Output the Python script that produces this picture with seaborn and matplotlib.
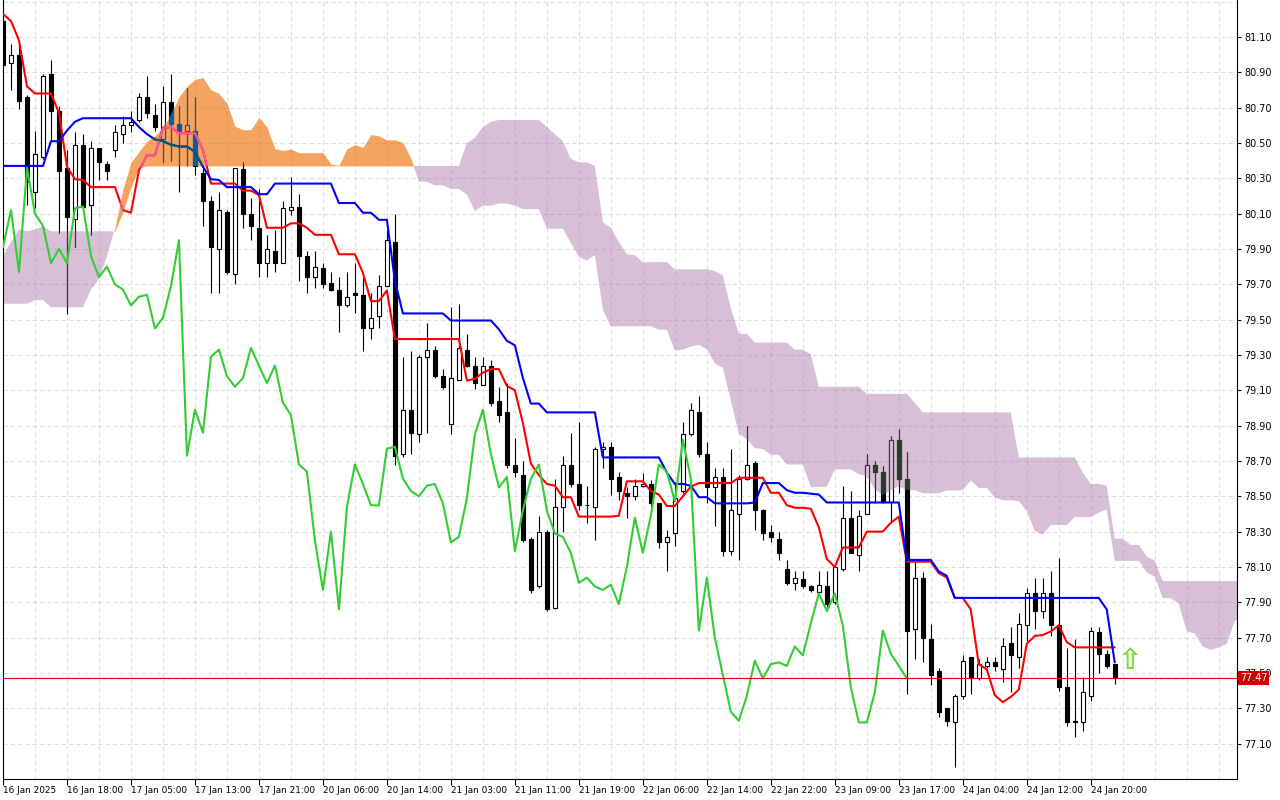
import numpy as np
import pandas as pd
import matplotlib
matplotlib.use("Agg")
import matplotlib.pyplot as plt
import matplotlib.colors as mcolors
from matplotlib.path import Path
from matplotlib.transforms import blended_transform_factory
import seaborn as sns

# ==============================
# H1 candles, 16 Jan 2025 -> 24 Jan 2025
# ==============================
opens = [81.19, 80.95, 81.00, 80.76, 80.22, 80.42, 80.89, 80.68, 80.36, 80.07,
         80.49, 80.15, 80.47, 80.38, 80.46, 80.55, 80.60, 80.63, 80.76, 80.66,
         80.52, 80.73, 80.61, 80.57, 80.57, 80.33, 80.17, 79.90, 80.11, 79.76,
         80.35, 80.10, 80.02, 79.82, 79.89, 79.82, 80.12, 80.14, 79.86, 79.74,
         79.79, 79.71, 79.67, 79.58, 79.65, 79.64, 79.45, 79.52, 79.69, 79.94,
         78.74, 78.99, 78.85, 79.29, 79.33, 79.18, 78.91, 79.16, 79.33, 79.24,
         79.13, 79.24, 79.04, 78.98, 78.68, 78.62, 78.26, 77.99, 78.30, 77.87,
         78.44, 78.68, 78.57, 78.452, 78.44, 78.77, 78.78, 78.61, 78.52, 78.50,
         78.56, 78.57, 78.46, 78.24, 78.29, 78.53, 78.85, 78.98, 78.74, 78.55,
         78.61, 78.19, 78.40, 78.60, 78.69, 78.42, 78.30, 78.26, 78.09, 78.01,
         78.03, 77.99, 77.96, 77.99, 77.90, 78.09, 78.38, 78.17, 78.40, 78.68,
         78.64, 78.47, 78.82, 78.60, 77.75, 78.04, 77.69, 77.51, 77.30, 77.22,
         77.37, 77.59, 77.47, 77.54, 77.56, 77.52, 77.67, 77.59, 77.77, 77.95,
         77.85, 77.95, 77.77, 77.42, 77.23, 77.22, 77.37, 77.73, 77.61, 77.55]
highs = [81.20, 81.06, 81.05, 80.77, 80.57, 80.89, 80.97, 80.71, 80.46, 80.56,
         80.55, 80.51, 80.47, 80.40, 80.60, 80.65, 80.68, 80.78, 80.88, 80.72,
         80.82, 80.89, 80.71, 80.81, 80.76, 80.36, 80.20, 80.22, 80.12, 80.36,
         80.39, 80.19, 80.24, 79.98, 80.01, 80.17, 80.31, 80.21, 79.89, 79.89,
         79.82, 79.77, 79.74, 79.77, 79.82, 79.74, 79.65, 79.75, 80.01, 80.10,
         79.29, 79.32, 79.30, 79.48, 79.35, 79.22, 79.57, 79.59, 79.42, 79.29,
         79.29, 79.27, 79.12, 79.14, 78.83, 78.70, 78.27, 78.39, 78.31, 78.60,
         78.73, 78.86, 78.92, 78.56, 78.78, 78.81, 78.81, 78.64, 78.55, 78.60,
         78.63, 78.59, 78.46, 78.31, 78.58, 78.92, 79.03, 79.07, 78.81, 78.66,
         78.66, 78.77, 78.62, 78.90, 78.70, 78.43, 78.34, 78.30, 78.14, 78.08,
         78.08, 78.00, 78.08, 78.08, 78.11, 78.56, 78.53, 78.42, 78.74, 78.70,
         78.67, 78.84, 78.88, 78.75, 78.13, 78.07, 77.78, 77.53, 77.30, 77.38,
         77.60, 77.59, 77.58, 77.59, 77.59, 77.70, 77.76, 77.84, 77.98, 78.04,
         78.04, 78.08, 78.15, 77.64, 77.69, 77.48, 77.76, 77.76, 77.63, 77.55]
lows = [80.92, 80.80, 80.69, 80.15, 80.13, 80.41, 80.51, 79.99, 79.53, 79.91,
        80.12, 79.98, 80.29, 80.29, 80.42, 80.50, 80.56, 80.62, 80.64, 80.57,
        80.39, 80.40, 80.22, 80.37, 80.32, 80.03, 79.65, 79.65, 79.76, 79.70,
        80.02, 79.95, 79.74, 79.74, 79.77, 79.82, 80.09, 79.72, 79.65, 79.68,
        79.68, 79.66, 79.43, 79.57, 79.54, 79.32, 79.39, 79.45, 79.69, 78.68,
        78.72, 78.74, 78.81, 78.86, 79.17, 79.11, 78.85, 79.16, 79.23, 79.11,
        79.13, 79.01, 78.92, 78.66, 78.61, 78.24, 77.95, 77.98, 77.85, 77.86,
        78.30, 78.55, 78.42, 78.35, 78.25, 78.66, 78.51, 78.48, 78.38, 78.48,
        78.55, 78.44, 78.21, 78.08, 78.22, 78.52, 78.84, 78.72, 78.46, 78.33,
        78.16, 78.17, 78.14, 78.59, 78.31, 78.25, 78.24, 78.14, 78.00, 77.97,
        77.98, 77.96, 77.95, 77.86, 77.89, 78.08, 78.18, 78.08, 78.40, 78.46,
        78.46, 78.35, 78.52, 77.38, 77.58, 77.56, 77.43, 77.25, 77.20, 76.97,
        77.35, 77.38, 77.46, 77.53, 77.51, 77.45, 77.39, 77.53, 77.68, 77.75,
        77.81, 77.71, 77.40, 77.20, 77.14, 77.17, 77.34, 77.50, 77.53, 77.44]
closes = [80.94, 81.00, 80.74, 80.28, 80.44, 80.88, 80.68, 80.34, 80.08, 80.49,
          80.14, 80.47, 80.39, 80.34, 80.56, 80.60, 80.62, 80.76, 80.67, 80.59,
          80.73, 80.61, 80.56, 80.60, 80.37, 80.17, 79.91, 80.12, 79.77, 80.36,
          80.10, 80.03, 79.82, 79.90, 79.82, 80.13, 80.14, 79.86, 79.74, 79.80,
          79.70, 79.67, 79.58, 79.63, 79.64, 79.45, 79.51, 79.69, 79.95, 78.73,
          78.99, 78.86, 79.29, 79.33, 79.18, 79.12, 79.17, 79.34, 79.24, 79.14,
          79.24, 79.03, 78.96, 78.68, 78.64, 78.25, 77.97, 78.30, 77.86, 78.44,
          78.68, 78.57, 78.45, 78.448, 78.77, 78.78, 78.60, 78.53, 78.50, 78.56,
          78.57, 78.46, 78.24, 78.27, 78.49, 78.85, 78.99, 78.74, 78.55, 78.61,
          78.19, 78.42, 78.60, 78.68, 78.42, 78.29, 78.27, 78.18, 78.01, 78.04,
          77.99, 77.97, 78.00, 77.89, 78.10, 78.38, 78.18, 78.39, 78.68, 78.64,
          78.47, 78.82, 78.60, 77.74, 78.04, 77.70, 77.49, 77.28, 77.23, 77.37,
          77.57, 77.47, 77.55, 77.56, 77.54, 77.65, 77.60, 77.78, 77.95, 77.85,
          77.95, 77.77, 77.42, 77.22, 77.22, 77.39, 77.74, 77.61, 77.54, 77.47]

# Ichimoku values carried in from bars before the visible window
tenkan_start = [81.23, 81.19, 81.08, 80.82, 80.78, 80.78, 80.78, 80.67]
kijun_start = [80.37, 80.37, 80.37, 80.37, 80.37, 80.37, 80.51, 80.51, 80.57, 80.62,
               80.64, 80.64, 80.64, 80.64, 80.64, 80.64, 80.64, 80.59, 80.55, 80.52,
               80.51, 80.49, 80.48, 80.48, 80.45]
span_a_start = [79.59, 79.59, 79.59, 79.59, 79.61, 79.61, 79.57, 79.57, 79.57, 79.57,
                79.57, 79.67, 79.73, 79.86, 80.02, 80.24, 80.39, 80.45, 80.51, 80.54,
                80.59, 80.66, 80.76, 80.82, 80.86, 80.87]
span_b_start = ([79.86, 79.94, 80.01, 80.00, 80.01, 80.03, 80.00, 80.00, 80.00, 80.00,
                 80.00, 80.00, 80.00, 80.00, 80.00, 80.11, 80.25, 80.36]
                + [80.37] * 40
                + [80.50, 80.53, 80.59, 80.62, 80.63, 80.63, 80.63, 80.63, 80.63, 80.63,
                   80.59, 80.55, 80.51, 80.41, 80.39, 80.39, 80.37, 80.05, 80.02])

time_labels = ["16 Jan 2025", "16 Jan 18:00", "17 Jan 05:00", "17 Jan 13:00",
               "17 Jan 21:00", "20 Jan 06:00", "20 Jan 14:00", "21 Jan 03:00",
               "21 Jan 11:00", "21 Jan 19:00", "22 Jan 06:00", "22 Jan 14:00",
               "22 Jan 22:00", "23 Jan 09:00", "23 Jan 17:00", "24 Jan 04:00",
               "24 Jan 12:00", "24 Jan 20:00"]
label_every = 8
last_price = 77.47
signal_bar = 140.9
signal_price = 77.57

# ==============================
# Ichimoku (9, 26, 52)
# ==============================
n = len(closes)
x = np.arange(n)
o, hi, lo, c = (np.array(v, dtype=float) for v in (opens, highs, lows, closes))
hs, ls = pd.Series(hi), pd.Series(lo)

tenkan = ((hs.rolling(9).max() + ls.rolling(9).min()) / 2).to_numpy()
tenkan[:8] = tenkan_start
kijun = ((hs.rolling(26).max() + ls.rolling(26).min()) / 2).to_numpy()
kijun[:25] = kijun_start
span_b_calc = ((hs.rolling(52).max() + ls.rolling(52).min()) / 2).to_numpy()

span_a = np.concatenate([span_a_start, (tenkan + kijun) / 2])
span_b = np.concatenate([span_b_start, span_b_calc[51:]])
xc = np.arange(len(span_a))

# ==============================
# Figure
# ==============================
sns.set_theme(style="white")
plt.rcParams["font.family"] = ["DejaVu Sans"]

W, H = 1280, 800
fig = plt.figure(figsize=(W / 100, H / 100), dpi=100, facecolor="white")
ax = fig.add_axes([3 / W, 1 - 779 / H, 1234 / W, 779 / H])
ax.set_facecolor("white")

ORANGE, THISTLE = "#F4A460", "#D8BFD8"
up_kumo = ax.fill_between(xc, span_a, span_b, where=span_a >= span_b, interpolate=True,
                          color=ORANGE, lw=0, zorder=1)
down_kumo = ax.fill_between(xc, span_a, span_b, where=span_a < span_b, interpolate=True,
                            color=THISTLE, lw=0, zorder=1)

body_lo = np.minimum(o, c)
body_h = np.maximum(np.abs(c - o), 0.004)
faces = np.where(c >= o, "white", "black")
BW = 0.55


def draw_candles(wick_col, face_cols, edge_col, z):
    w = ax.vlines(x, lo, hi, color=wick_col, lw=0.8, zorder=z)
    b = ax.bar(x, body_h, bottom=body_lo, width=BW, color=face_cols,
               edgecolor=edge_col, linewidth=0.8, zorder=z + 0.05)
    return [w] + list(b.patches)


draw_candles("black", faces, "black", 2)

sns.lineplot(x=x, y=tenkan, color="#FF0000", linewidth=1.5, zorder=3, ax=ax)
sns.lineplot(x=x, y=kijun, color="#0000FF", linewidth=1.5, zorder=3, ax=ax)


# the kumo is painted in XOR mode, so whatever lies under it shows inverted
def xor_col(col, cloud):
    a = (np.array(mcolors.to_rgb(col)) * 255).round().astype(int)
    b = (np.array(mcolors.to_rgb(cloud)) * 255).round().astype(int)
    return tuple((a ^ (255 - b)) / 255)


for coll, cloud in ((up_kumo, ORANGE), (down_kumo, THISTLE)):
    paths = coll.get_paths()
    if not paths:
        continue
    clip = Path.make_compound_path(*paths)
    arts = draw_candles(xor_col("black", cloud), [xor_col(f, cloud) for f in faces],
                        xor_col("black", cloud), 2.2)
    arts += ax.plot(x, tenkan, color=xor_col("#FF0000", cloud), lw=1.5, zorder=3.1)
    arts += ax.plot(x, kijun, color=xor_col("#0000FF", cloud), lw=1.5, zorder=3.1)
    for a in arts:
        a.set_clip_path(clip, ax.transData)

# chikou span: close shifted back 26 bars
sns.lineplot(x=x[:n - 26], y=c[26:], color="#32CD32", linewidth=1.5, zorder=4, ax=ax)

ax.axhline(last_price, color="#E00000", lw=0.8, zorder=4.5)
ax.text(signal_bar, signal_price, "\u21e7", fontsize=21, fontweight="bold",
        color="#78DC3C", ha="center", va="center", zorder=6)

# ==============================
# Axes, ticks and grid
# ==============================
ax.set_xlim((3 - 2.7) / 8, (1237 - 2.7) / 8)
ax.set_ylim(81.10 - 742 / 177, 81.10 + 37 / 177)

tick_bars = np.arange(len(time_labels)) * label_every
ax.set_xticks(tick_bars)
ax.set_xticklabels(time_labels, ha="left")
ax.set_xticks(np.arange(4, 156, 4), minor=True)

price_ticks = np.round(np.arange(77.10, 81.11, 0.2), 2)
ax.yaxis.tick_right()
ax.set_yticks(price_ticks)
ax.set_yticklabels([f"{p:.2f}" for p in price_ticks])
ax.set_yticks([76.90, 81.30], minor=True)

ax.tick_params(axis="x", which="major", direction="out", length=4, width=0.8,
               pad=1, labelsize=6.4, colors="black", bottom=True)
ax.tick_params(axis="y", which="major", direction="out", length=3, width=0.8,
               pad=2, labelsize=6.9, colors="black", right=True)
ax.tick_params(which="minor", length=0)

ax.set_axisbelow("line")
ax.grid(True, which="both", color="#888888", alpha=0.28, lw=0.75, ls=(0, (4, 3)))

for side in ("left", "right", "bottom"):
    ax.spines[side].set_visible(True)
    ax.spines[side].set_color("black")
    ax.spines[side].set_linewidth(0.8)
ax.spines["top"].set_visible(False)
ax.set_xlabel("")
ax.set_ylabel("")

trans = blended_transform_factory(ax.transAxes, ax.transData)
ax.text(1.0 + 3 / 1234, last_price, f"{last_price:.2f}", transform=trans,
        ha="left", va="center", color="white", fontsize=6.9, zorder=10, clip_on=False,
        bbox=dict(boxstyle="square,pad=0.2", fc="#D00000", ec="none"))

fig.savefig("out.png", dpi=100, facecolor="white")
